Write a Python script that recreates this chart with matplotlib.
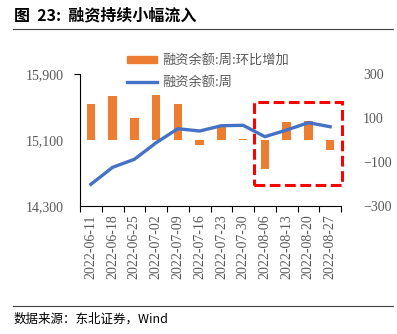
import matplotlib
matplotlib.use('Agg')
import matplotlib.pyplot as plt
from matplotlib.lines import Line2D
from matplotlib.patches import Rectangle

plt.rcParams['font.family'] = ['Liberation Serif', 'Noto Sans CJK SC']

dates = ['2022-06-11', '2022-06-18', '2022-06-25', '2022-07-02', '2022-07-09', '2022-07-16',
         '2022-07-23', '2022-07-30', '2022-08-06', '2022-08-13', '2022-08-20', '2022-08-27']
balance = [14563, 14769, 14866, 15067, 15237, 15209, 15273, 15278, 15140, 15221, 15310, 15261]
weekly_change = [164, 201, 100, 206, 164, -21, 65, 3, -132, 80, 86, -45]

W, H = 397, 334
fig = plt.figure(figsize=(W / 100, H / 100), dpi=100)
ax = fig.add_axes([80 / W, (H - 206) / H, (341 - 80) / W, (206 - 74) / H])
ax2 = ax.twinx()

x = list(range(len(dates)))
ax2.bar(x, weekly_change, width=0.4, color='#ED7D31', zorder=1)
ax.plot(x, balance, color='#4472C4', lw=2.4, zorder=3)
ax.set_zorder(ax2.get_zorder() + 1)
ax.patch.set_visible(False)

ax.set_xlim(-0.5, 11.5)
ax.set_ylim(14300, 15900)
ax.set_yticks([14300, 15100, 15900])
ax.set_yticklabels(['14,300', '15,100', '15,900'])
ax2.set_ylim(-300, 300)
ax2.set_yticks([-300, -100, 100, 300])

ax.set_xticks([i - 0.5 for i in range(13)])
ax.set_xticklabels([])
ax.set_xticks(x, minor=True)
ax.set_xticklabels(dates, minor=True, rotation=90)
ax.tick_params(axis='x', which='minor', length=0, pad=6, labelsize=10, labelcolor='#595959')
ax.tick_params(axis='x', which='major', length=4, direction='out', width=0.8)
ax.tick_params(axis='y', length=4, width=0.8, labelsize=10, labelcolor='#595959', pad=8)
ax2.tick_params(axis='y', length=0, labelsize=10, labelcolor='#595959', pad=16)

for a in (ax, ax2):
    a.spines['top'].set_visible(False)
    a.spines['right'].set_visible(False)
ax2.spines['left'].set_visible(False)
ax2.spines['bottom'].set_visible(False)

# only the top tick mark shows on the left spine
ax.yaxis.get_major_ticks()[0].tick1line.set_visible(False)
ax.yaxis.get_major_ticks()[1].tick1line.set_visible(False)

rect = Rectangle((7.5, -203), 4.05, 377, fill=False, edgecolor='#FF0000', lw=2.2,
                 linestyle=(0, (3.5, 1.5)), clip_on=False, zorder=5)
ax2.add_patch(rect)

handles = [Rectangle((0, 0), 1, 1, color='#ED7D31'),
           Line2D([0], [0], color='#4472C4', lw=2.4)]
fig.legend(handles, ['融资余额:周:环比增加', '融资余额:周'], loc='upper left',
           bbox_to_anchor=(127 / W, 1 - 54 / H), frameon=False,
           prop={'family': ['Noto Sans CJK SC'], 'size': 9.5}, labelcolor='#595959',
           handlelength=2.3, handleheight=0.5, labelspacing=0.7, handletextpad=0.4,
           borderaxespad=0, borderpad=0)

fig.text(14 / W, 1 - 15 / H, '图  23:  融资持续小幅流入', fontsize=11.5, fontweight='bold',
         family=['Noto Sans CJK SC'], va='center', ha='left')
fig.add_artist(Line2D([13 / W, 393 / W], [1 - 29 / H, 1 - 29 / H], color='#404040', lw=0.8))
fig.add_artist(Line2D([13 / W, 393 / W], [1 - 306 / H, 1 - 306 / H], color='#404040', lw=0.8))
fig.text(14 / W, 1 - 319 / H, '数据来源：东北证券，Wind', fontsize=9,
         family=['Noto Sans CJK SC'], va='center', ha='left')

fig.savefig('out.png', dpi=100)
